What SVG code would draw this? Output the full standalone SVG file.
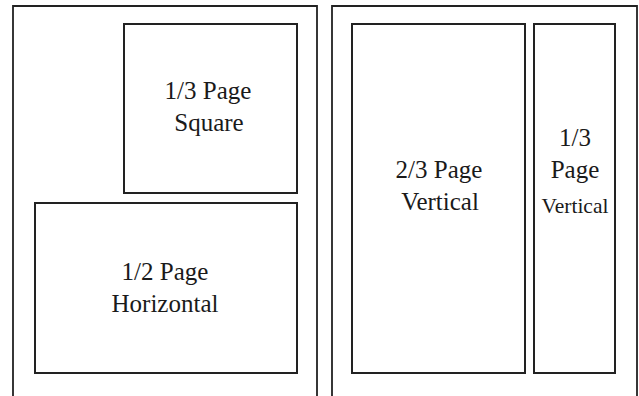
<svg xmlns="http://www.w3.org/2000/svg" width="639" height="396" viewBox="0 0 639 396">
<style>
.page{fill:none;stroke:#222;stroke-width:1.8}
.box{fill:#fff;stroke:#222;stroke-width:2}
.lbl{font-family:'Liberation Serif','Times New Roman',Times,serif;font-size:25px;fill:#1a1a1a;text-anchor:middle}
.sm{font-size:21.5px}
</style>
<rect width="639" height="396" fill="#fff"/>
<g id="page-left"><path class="page" d="M13,397 V6 H317 V397"/></g>
<g id="page-right"><path class="page" d="M332,397 V6 H637 V397"/></g>
<g id="third-square">
<rect class="box" x="124" y="24" width="173" height="169"/>
<text class="lbl" x="208" y="99">1/3 Page</text>
<text class="lbl" x="209" y="131">Square</text>
</g>
<g id="half-horizontal">
<rect class="box" x="35" y="203" width="262" height="170"/>
<text class="lbl" x="165" y="280">1/2 Page</text>
<text class="lbl" x="165" y="312" font-size="26">Horizontal</text>
</g>
<g id="two-thirds-vertical">
<rect class="box" x="352" y="24" width="173" height="349"/>
<text class="lbl" x="439" y="178">2/3 Page</text>
<text class="lbl" x="440" y="210">Vertical</text>
</g>
<g id="third-vertical">
<rect class="box" x="534" y="24" width="81" height="349"/>
<text class="lbl" x="575" y="146">1/3</text>
<text class="lbl" x="575" y="178">Page</text>
<text class="lbl sm" x="575" y="213">Vertical</text>
</g>
<g id="connectors"></g>
</svg>
